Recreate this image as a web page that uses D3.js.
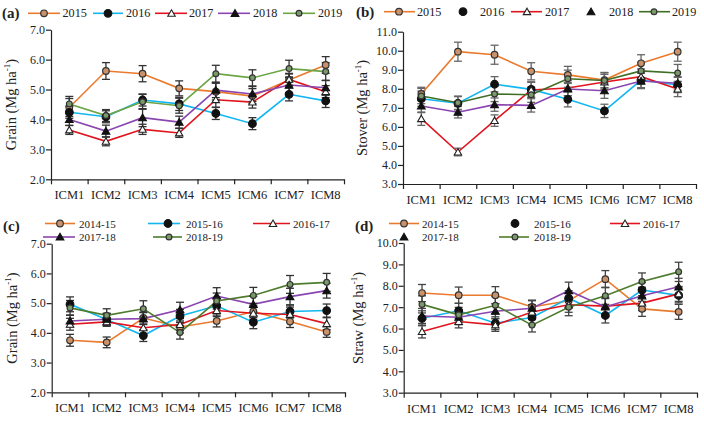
<!DOCTYPE html>
<html><head><meta charset="utf-8">
<script src="https://cdn.jsdelivr.net/npm/d3@7"></script>
<style>
html,body{margin:0;padding:0;background:#fff;}
text{font-family:"Liberation Serif","Times New Roman",serif;fill:#222;}
</style></head>
<body>
<svg id="c" width="704" height="421"></svg>
<script>
// ---------- DATA ----------
const categories = ["ICM1","ICM2","ICM3","ICM4","ICM5","ICM6","ICM7","ICM8"];

// Panel (a) grain
const yearsA = ["2015","2016","2017","2018","2019"];
const grainA2015 = [4.40, 5.62, 5.53, 5.04, 4.93, 4.78, 5.32, 5.82];
const grainA2016 = [4.24, 4.09, 4.65, 4.52, 4.20, 3.86, 4.84, 4.62];
const grainA2017 = [3.65, 3.27, 3.67, 3.55, 4.66, 4.58, 5.34, 4.93];
const grainA2018 = [4.00, 3.61, 4.06, 3.91, 4.98, 4.85, 5.15, 5.06];
const grainA2019 = [4.52, 4.13, 4.59, 4.46, 5.53, 5.39, 5.70, 5.60];
const errA2015 = [0.30, 0.28, 0.27, 0.25, 0.28, 0.25, 0.20, 0.28];
const errA2016 = [0.20, 0.20, 0.20, 0.22, 0.20, 0.20, 0.22, 0.22];
const errA2017 = [0.15, 0.15, 0.17, 0.15, 0.25, 0.20, 0.20, 0.20];
const errA2018 = [0.20, 0.20, 0.30, 0.20, 0.25, 0.25, 0.25, 0.25];
const errA2019 = [0.25, 0.20, 0.25, 0.25, 0.28, 0.27, 0.28, 0.30];
const ticksA = [2.0, 3.0, 4.0, 5.0, 6.0, 7.0];

// Panel (b) stover
const stover2015 = [7.73, 9.95, 9.79, 8.92, 8.73, 8.46, 9.34, 9.95];
const stover2016 = [7.48, 7.24, 8.24, 7.97, 7.45, 6.84, 8.46, 8.20];
const stover2017 = [6.43, 4.68, 6.33, 7.94, 8.04, 8.36, 8.64, 7.99];
const stover2018 = [7.10, 6.77, 7.17, 7.13, 7.99, 7.90, 8.41, 8.29];
const stover2019 = [7.62, 7.27, 7.73, 7.69, 8.53, 8.44, 8.94, 8.83];
const errB2015 = [0.35, 0.50, 0.50, 0.45, 0.45, 0.40, 0.45, 0.50];
const errB2016 = [0.40, 0.35, 0.40, 0.40, 0.40, 0.35, 0.40, 0.40];
const errB2017 = [0.35, 0.20, 0.30, 0.40, 0.40, 0.40, 0.40, 0.40];
const errB2018 = [0.35, 0.30, 0.35, 0.35, 0.35, 0.40, 0.40, 0.35];
const errB2019 = [0.40, 0.35, 0.40, 0.40, 0.45, 0.40, 0.45, 0.45];
const ticksB = [3.0, 4.0, 5.0, 6.0, 7.0, 8.0, 9.0, 10.0, 11.0];

// Panel (c) grain
const seasons = ["2014-15","2015-16","2016-17","2017-18","2018-19"];
const grainC1415 = [3.75, 3.68, 4.50, 4.20, 4.40, 4.72, 4.38, 4.03];
const grainC1516 = [4.96, 4.45, 3.91, 4.57, 4.91, 4.36, 4.72, 4.75];
const grainC1617 = [4.29, 4.37, 4.17, 4.28, 4.75, 4.66, 4.62, 4.31];
const grainC1718 = [4.40, 4.46, 4.48, 4.78, 5.24, 4.96, 5.22, 5.42];
const grainC1819 = [4.84, 4.59, 4.81, 4.01, 5.07, 5.26, 5.63, 5.70];
const errC1415 = [0.20, 0.18, 0.20, 0.20, 0.20, 0.20, 0.20, 0.18];
const errC1516 = [0.25, 0.20, 0.20, 0.22, 0.25, 0.22, 0.22, 0.22];
const errC1617 = [0.20, 0.15, 0.20, 0.20, 0.20, 0.20, 0.25, 0.20];
const errC1718 = [0.20, 0.20, 0.20, 0.25, 0.28, 0.27, 0.28, 0.25];
const errC1819 = [0.25, 0.22, 0.27, 0.22, 0.27, 0.27, 0.30, 0.30];
const ticksC = [2.0, 3.0, 4.0, 5.0, 6.0, 7.0];

// Panel (d) straw
const strawD1415 = [7.66, 7.56, 7.56, 7.01, 7.30, 8.31, 6.92, 6.78];
const strawD1516 = [6.48, 6.83, 6.25, 6.52, 7.42, 6.61, 7.80, 7.55];
const strawD1617 = [5.86, 6.33, 6.17, 6.77, 7.11, 7.05, 7.19, 7.62];
const strawD1718 = [6.59, 6.53, 6.81, 6.95, 7.77, 7.01, 7.53, 7.95];
const strawD1819 = [7.13, 6.64, 7.09, 6.16, 7.00, 7.53, 8.20, 8.65];
const errD1415 = [0.40, 0.38, 0.40, 0.32, 0.35, 0.40, 0.35, 0.35];
const errD1516 = [0.35, 0.35, 0.30, 0.35, 0.35, 0.35, 0.35, 0.35];
const errD1617 = [0.30, 0.30, 0.30, 0.35, 0.35, 0.35, 0.35, 0.35];
const errD1718 = [0.35, 0.35, 0.35, 0.35, 0.40, 0.45, 0.40, 0.40];
const errD1819 = [0.40, 0.35, 0.40, 0.32, 0.40, 0.40, 0.40, 0.45];
const ticksD = [3.0, 4.0, 5.0, 6.0, 7.0, 8.0, 9.0, 10.0];

// ---------- STYLES ----------
const ORANGE = "#EA7A2E", CYAN = "#12B6F0", RED = "#E0141E", PURPLE = "#8A45B0";
const markerStyles = [
  {shape:"circle", r:3.3, fill:"#C9926A", stroke:"#333"},
  {shape:"circle", r:3.8, fill:"#111", stroke:"#111"},
  {shape:"triangle", size:24, fill:"#fff", stroke:"#222"},
  {shape:"triangle", size:26, fill:"#111", stroke:"#111"},
  {shape:"circle", r:2.9, fill:"#7A9A6A", stroke:"#333"}
];

const svg = d3.select("#c");

function marker(g, ms, x, y) {
  if (ms.shape === "circle") {
    g.append("circle").attr("cx", x).attr("cy", y).attr("r", ms.r)
      .attr("fill", ms.fill).attr("stroke", ms.stroke).attr("stroke-width", 1.2);
  } else {
    g.append("path").attr("d", d3.symbol().type(d3.symbolTriangle).size(ms.size)())
      .attr("transform", `translate(${x},${y + 0.8})`)
      .attr("fill", ms.fill).attr("stroke", ms.stroke).attr("stroke-width", 1.1);
  }
}

function panel(cfg) {
  const g = svg.append("g");
  const x = d3.scaleBand().domain(categories).range([cfg.x0, cfg.x1]);
  const xl = d3.scaleLinear().domain([0, categories.length]).range([cfg.x0, cfg.x1]);
  const y = d3.scaleLinear().domain([cfg.ymin, cfg.ymax]).range([cfg.yb, cfg.yt]);

  // axes
  const ya = g.append("g").attr("transform", `translate(${cfg.x0},0)`)
    .call(d3.axisLeft(y).tickValues(cfg.ticks).tickFormat(d3.format(".1f")).tickSize(5).tickSizeOuter(0));
  ya.attr("font-family", null);
  ya.select(".domain").attr("stroke", "#222").attr("stroke-width", 1.2);
  ya.selectAll(".tick line").attr("stroke", "#222").attr("stroke-width", 1.2);
  ya.selectAll(".tick text").attr("font-size", 12).attr("x", -6).attr("fill", "#222");

  const xa = g.append("g").attr("transform", `translate(0,${cfg.yb})`)
    .call(d3.axisBottom(xl).tickValues(d3.range(0, categories.length + 1)).tickFormat("").tickSize(5).tickSizeOuter(0));
  xa.select(".domain").attr("stroke", "#222").attr("stroke-width", 1.2);
  xa.selectAll(".tick line").attr("stroke", "#222").attr("stroke-width", 1.2);
  const xb = g.append("g").attr("transform", `translate(0,${cfg.yb})`)
    .call(d3.axisBottom(x).tickSize(0).tickPadding(11));
  xb.attr("font-family", null);
  xb.select(".domain").remove();
  xb.selectAll(".tick text").attr("font-size", 12.5).attr("fill", "#222");

  // y label
  const lab = g.append("text")
    .attr("transform", `translate(${cfg.labX},${(cfg.yt + cfg.yb) / 2}) rotate(-90)`)
    .attr("text-anchor", "middle").attr("font-size", 14.5);
  lab.append("tspan").text(cfg.ylabel + " (Mg ha");
  lab.append("tspan").text("-1").attr("font-size", 9).attr("dy", -6);
  lab.append("tspan").text(")").attr("dy", 6);

  // panel letter
  g.append("text").attr("x", cfg.letterX).attr("y", cfg.letterY)
    .attr("font-size", 15).attr("font-weight", "bold").text(cfg.letter);

  const cx = i => x(categories[i]) + x.bandwidth() / 2;
  const line = d3.line().x((d, i) => cx(i)).y(d => y(d));

  cfg.series.forEach(s => {
    g.append("path").datum(s.values).attr("d", line)
      .attr("fill", "none").attr("stroke", s.color).attr("stroke-width", 1.6);
  });
  cfg.series.forEach(s => {
    s.values.forEach((v, i) => {
      const e = s.err[i], X = cx(i);
      g.append("line").attr("x1", X).attr("x2", X).attr("y1", y(v - e)).attr("y2", y(v + e))
        .attr("stroke", cfg.errColor).attr("stroke-width", 1.3);
      [v - e, v + e].forEach(w => g.append("line").attr("x1", X - 4).attr("x2", X + 4)
        .attr("y1", y(w)).attr("y2", y(w)).attr("stroke", cfg.errColor).attr("stroke-width", 1.3));
    });
  });
  cfg.series.forEach((s, k) => {
    s.values.forEach((v, i) => marker(g, markerStyles[k], cx(i), y(v)));
  });

  // legend
  cfg.legend.forEach((L, k) => {
    const s = cfg.series[k];
    if (L.line) {
      g.append("line").attr("x1", L.lx0).attr("x2", L.lx1).attr("y1", L.y).attr("y2", L.y)
        .attr("stroke", s.color).attr("stroke-width", 1.6);
    }
    marker(g, markerStyles[k], L.mx, L.y);
    g.append("text").attr("x", L.tx).attr("y", L.y + 4).attr("font-size", cfg.legendFont).text(s.name);
  });
}

// (a)
panel({
  letter:"(a)", letterX:2, letterY:18, x0:51, x1:344, yt:29.7, yb:179.3, ymin:2, ymax:7,
  ticks:ticksA, ylabel:"Grain", labX:16, errColor:"#333", legendFont:12.2,
  series:[
    {name:yearsA[0], values:grainA2015, err:errA2015, color:ORANGE},
    {name:yearsA[1], values:grainA2016, err:errA2016, color:CYAN},
    {name:yearsA[2], values:grainA2017, err:errA2017, color:RED},
    {name:yearsA[3], values:grainA2018, err:errA2018, color:PURPLE},
    {name:yearsA[4], values:grainA2019, err:errA2019, color:"#6BA544"}
  ],
  legend:[
    {line:true, lx0:28, lx1:60, mx:44, tx:62.5, y:13.3},
    {line:true, lx0:93, lx1:123, mx:108, tx:126, y:13.3},
    {line:true, lx0:155, lx1:187, mx:171.5, tx:189, y:13.3},
    {line:true, lx0:218, lx1:250, mx:235, tx:253, y:13.3},
    {line:true, lx0:283, lx1:315, mx:299, tx:318, y:13.3}
  ]
});

// (b)
panel({
  letter:"(b)", letterX:356, letterY:17, x0:403, x1:696, yt:31.7, yb:184, ymin:3, ymax:11,
  ticks:ticksB, ylabel:"Stover", labX:367, errColor:"#666", legendFont:12.2,
  series:[
    {name:yearsA[0], values:stover2015, err:errB2015, color:ORANGE},
    {name:yearsA[1], values:stover2016, err:errB2016, color:CYAN},
    {name:yearsA[2], values:stover2017, err:errB2017, color:RED},
    {name:yearsA[3], values:stover2018, err:errB2018, color:PURPLE},
    {name:yearsA[4], values:stover2019, err:errB2019, color:"#3E6E23"}
  ],
  legend:[
    {line:true, lx0:384, lx1:415, mx:399, tx:417, y:11.7},
    {line:false, mx:463, tx:480, y:11.7},
    {line:true, lx0:511, lx1:542, mx:527, tx:545, y:11.7},
    {line:false, mx:591, tx:609, y:11.7},
    {line:true, lx0:639, lx1:670, mx:654, tx:672, y:11.7}
  ]
});

// (c)
panel({
  letter:"(c)", letterX:3, letterY:231, x0:51.7, x1:345, yt:243.7, yb:392.3, ymin:2, ymax:7,
  ticks:ticksC, ylabel:"Grain", labX:17, errColor:"#333", legendFont:11,
  series:[
    {name:seasons[0], values:grainC1415, err:errC1415, color:ORANGE},
    {name:seasons[1], values:grainC1516, err:errC1516, color:CYAN},
    {name:seasons[2], values:grainC1617, err:errC1617, color:RED},
    {name:seasons[3], values:grainC1718, err:errC1718, color:PURPLE},
    {name:seasons[4], values:grainC1819, err:errC1819, color:"#4E7C2C"}
  ],
  legend:[
    {line:true, lx0:45, lx1:75, mx:60, tx:79, y:223.5},
    {line:true, lx0:148, lx1:180, mx:168, tx:186, y:223.5},
    {line:true, lx0:253, lx1:290, mx:273, tx:293, y:223.5},
    {line:true, lx0:43, lx1:75, mx:60, tx:79, y:237},
    {line:true, lx0:153, lx1:182, mx:169, tx:186, y:237}
  ]
});

// (d)
panel({
  letter:"(d)", letterX:355, letterY:231, x0:403.7, x1:697, yt:243, yb:392.7, ymin:3, ymax:10,
  ticks:ticksD, ylabel:"Straw", labX:363, errColor:"#444", legendFont:11,
  series:[
    {name:seasons[0], values:strawD1415, err:errD1415, color:ORANGE},
    {name:seasons[1], values:strawD1516, err:errD1516, color:CYAN},
    {name:seasons[2], values:strawD1617, err:errD1617, color:RED},
    {name:seasons[3], values:strawD1718, err:errD1718, color:PURPLE},
    {name:seasons[4], values:strawD1819, err:errD1819, color:"#4E7C2C"}
  ],
  legend:[
    {line:true, lx0:389, lx1:419, mx:404, tx:422, y:223.5},
    {line:false, mx:515, tx:534, y:223.5},
    {line:true, lx0:610, lx1:640, mx:625, tx:643, y:223.5},
    {line:false, mx:404, tx:422, y:237},
    {line:true, lx0:499, lx1:529, mx:515, tx:534, y:237}
  ]
});
</script>
</body></html>
